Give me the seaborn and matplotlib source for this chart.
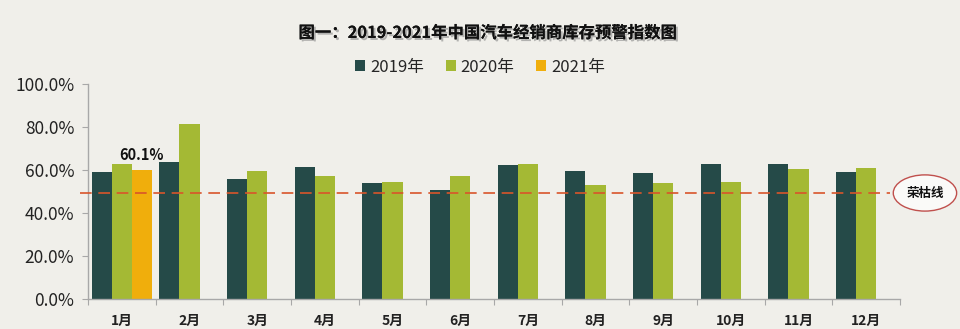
import matplotlib
matplotlib.use("Agg")
import matplotlib.pyplot as plt
import matplotlib.patheffects as pe
from matplotlib.patches import Ellipse
from matplotlib.ticker import FixedLocator, FuncFormatter
import numpy as np
import pandas as pd
import seaborn as sns

# ---- data ----
months = ["1月", "2月", "3月", "4月", "5月", "6月", "7月", "8月", "9月", "10月", "11月", "12月"]
years = ["2019年", "2020年", "2021年"]
v2019 = [59.1, 63.9, 55.7, 61.2, 54.1, 50.5, 62.3, 59.4, 58.8, 62.6, 62.6, 59.1]
v2020 = [62.9, 81.4, 59.4, 57.1, 54.4, 57.1, 62.9, 52.9, 54.1, 54.4, 60.6, 60.9]
v2021 = [60.1]
threshold = 49.1
title = "图一：2019-2021年中国汽车经销商库存预警指数图"
threshold_label = "荣枯线"
y_ticks = [0, 20, 40, 60, 80, 100]

rows = []
for m, v in zip(months, v2019):
    rows.append((m, years[0], v))
for m, v in zip(months, v2020):
    rows.append((m, years[1], v))
for m, v in zip(months, v2021):
    rows.append((m, years[2], v))
df = pd.DataFrame(rows, columns=["month", "year", "value"])

colors = ["#254A48", "#A4B934", "#F0AE0C"]
bg = "#F0EFEA"

sns.set_theme(style="white")
plt.rcParams["font.family"] = ["Noto Sans CJK SC", "DejaVu Sans"]

fig = plt.figure(figsize=(9.6, 3.29), dpi=100, facecolor=bg)
ax = fig.add_axes([0.0917, 0.0912, 0.8458, 0.6535])
ax.set_facecolor(bg)

sns.barplot(data=df, x="month", y="value", hue="year", order=months,
            hue_order=years, palette=colors, width=0.89, saturation=1,
            ax=ax, errorbar=None, legend=True, linewidth=0, edgecolor="none")

ax.set_xlim(-0.5, len(months) - 0.5)
ax.set_ylim(0, 100)
ax.set_xlabel("")
ax.set_ylabel("")

# spines
for s in ["top", "right"]:
    ax.spines[s].set_visible(False)
for s in ["left", "bottom"]:
    ax.spines[s].set_color("#A8A8A8")
    ax.spines[s].set_linewidth(1.0)

ax.yaxis.set_major_locator(FixedLocator(y_ticks))
ax.yaxis.set_major_formatter(FuncFormatter(lambda v, p: f"{v:.1f}%"))
ax.tick_params(axis="y", which="major", left=True, length=4, width=0.8,
               color="#A8A8A8", labelsize=12.5, labelcolor="#222222", pad=6)

ax.tick_params(axis="x", which="major", bottom=False, labelsize=10,
               labelcolor="#222222", pad=5)
for lbl in ax.get_xticklabels():
    lbl.set_fontweight("bold")
ax.xaxis.set_minor_locator(FixedLocator(np.arange(-0.5, len(months) + 0.5, 1.0)))
ax.tick_params(axis="x", which="minor", bottom=True, length=4, width=0.8,
               color="#A8A8A8")

# value label on 2021 bar
ax.bar_label(ax.containers[2], labels=[f"{v:.1f}%" for v in v2021],
             padding=5, fontsize=10.5, fontweight="bold", color="#111111")

# threshold line
ax.axhline(threshold, xmin=-0.01, xmax=0.988, color="#D9552A", lw=1.2,
           ls=(0, (7, 4)), clip_on=False, zorder=5)

# legend
handles, labels = ax.get_legend_handles_labels()
ax.get_legend().remove()
fig.legend(handles, labels, loc="center", bbox_to_anchor=(0.5, 0.796),
           ncol=3, frameon=False, fontsize=12, handlelength=0.6,
           handleheight=0.6, handletextpad=0.3, columnspacing=1.3)

# title
fig.text(0.508, 0.9, title, ha="center", va="center", fontsize=11.8,
         fontweight="bold", color="#111111",
         path_effects=[pe.withSimplePatchShadow(offset=(1.5, -1.5),
                                                shadow_rgbFace="#888888", alpha=0.6),
                       pe.Normal()])

# ellipse annotation
ell = Ellipse((0.9635, 0.4134), 0.066, 0.11, transform=fig.transFigure,
              facecolor="#FAFAF8", edgecolor="#C0504D", lw=1.0)
fig.add_artist(ell)
fig.text(0.9635, 0.4134, threshold_label, ha="center", va="center",
         fontsize=9, fontweight="bold", color="#111111")

fig.savefig("out.png", dpi=100, facecolor=bg)
